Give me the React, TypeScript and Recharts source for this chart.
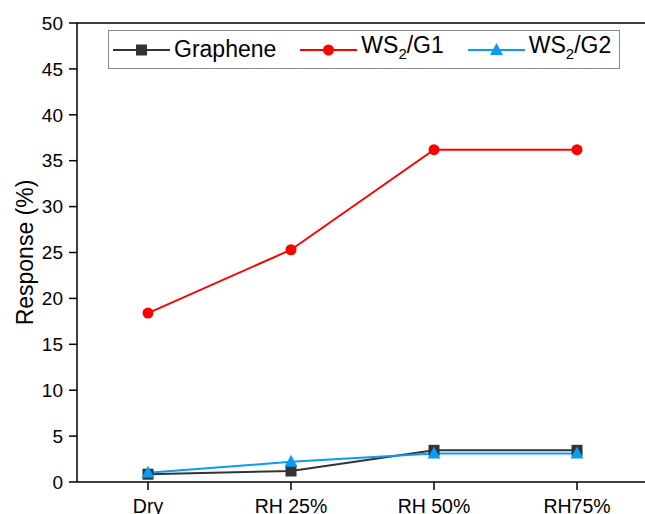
import React from 'react'
import {
  LineChart,
  Line,
  XAxis,
  YAxis,
  Legend,
  ReferenceLine,
} from 'recharts'

// Humidity conditions on the x axis
const conditions = ['Dry', 'RH 25%', 'RH 50%', 'RH75%']

// Sensor response (%) per material
const grapheneResponse = [0.85, 1.2, 3.45, 3.45]
const ws2g1Response = [18.4, 25.3, 36.2, 36.2]
const ws2g2Response = [1.0, 2.2, 3.1, 3.1]

const yTicks = [0, 5, 10, 15, 20, 25, 30, 35, 40, 45, 50]

const FONT = "Arial, 'Liberation Sans', sans-serif"
const GRAPHENE = '#333333'
const G1 = '#ff0000'
const G2 = '#0a9cf5'

const data = conditions.map((c, i) => ({
  condition: c,
  graphene: grapheneResponse[i],
  ws2g1: ws2g1Response[i],
  ws2g2: ws2g2Response[i],
}))

const squareDot = (p: any) => (
  <rect
    key={`sq-${p.index}`}
    x={p.cx - 5.5}
    y={p.cy - 5.5}
    width={11}
    height={11}
    fill={GRAPHENE}
  />
)

const circleDot = (p: any) => (
  <circle key={`ci-${p.index}`} cx={p.cx} cy={p.cy} r={5.5} fill={G1} />
)

const triangleDot = (p: any) => (
  <path
    key={`tr-${p.index}`}
    d={`M${p.cx},${p.cy - 7} L${p.cx + 6.5},${p.cy + 5} L${p.cx - 6.5},${p.cy + 5} Z`}
    fill={G2}
  />
)

function LegendIcon({ color, shape }: { color: string; shape: string }) {
  return (
    <svg width={57} height={20} style={{ display: 'block' }}>
      <line x1={0} y1={10} x2={57} y2={10} stroke={color} strokeWidth={2} />
      {shape === 'square' && <rect x={23} y={4.5} width={11} height={11} fill={color} />}
      {shape === 'circle' && <circle cx={28.5} cy={10} r={5.5} fill={color} />}
      {shape === 'triangle' && <path d="M28.5,3 L35,15 L22,15 Z" fill={color} />}
    </svg>
  )
}

function ChartLegend() {
  const items = [
    { color: GRAPHENE, shape: 'square', label: <>Graphene</> },
    { color: G1, shape: 'circle', label: <>WS<sub style={{ fontSize: 15 }}>2</sub>/G1</> },
    { color: G2, shape: 'triangle', label: <>WS<sub style={{ fontSize: 15 }}>2</sub>/G2</> },
  ]
  return (
    <div
      style={{
        display: 'flex',
        alignItems: 'center',
        border: '1px solid #8a8a8a',
        width: 512,
        height: 39,
        boxSizing: 'border-box',
        paddingLeft: 4,
        fontFamily: FONT,
        fontSize: 23,
        color: '#000',
        background: '#fff',
      }}
    >
      {items.map((it, i) => (
        <div
          key={i}
          style={{ display: 'flex', alignItems: 'center', marginRight: i < 2 ? 24 : 0 }}
        >
          <LegendIcon color={it.color} shape={it.shape} />
          <span style={{ marginLeft: 4, lineHeight: '23px', whiteSpace: 'nowrap' }}>{it.label}</span>
        </div>
      ))}
    </div>
  )
}

export default function App() {
  return (
    <div
      style={{
        position: 'absolute',
        top: 0,
        left: 0,
        width: 645,
        height: 514,
        background: '#fff',
      }}
    >
      {/* negative right margin lets the frame run past the right edge */}
      <LineChart
        width={645}
        height={514}
        data={data}
        margin={{ top: 23, right: -3, bottom: 0, left: 0 }}
      >
        <XAxis
          dataKey="condition"
          type="category"
          scale="point"
          padding={{ left: 71, right: 71 }}
          height={32}
          tickSize={8}
          tickMargin={9}
          stroke="#000"
          strokeWidth={1.5}
          tick={{ fill: '#000', fontSize: 19.5, fontFamily: FONT }}
          tickLine={{ stroke: '#000', strokeWidth: 1.5 }}
          interval={0}
        />
        <YAxis
          domain={[0, 50]}
          ticks={yTicks}
          width={77}
          tickSize={8}
          tickMargin={6}
          stroke="#000"
          strokeWidth={1.5}
          tick={{ fill: '#000', fontSize: 19, fontFamily: FONT }}
          tickLine={{ stroke: '#000', strokeWidth: 1.5 }}
          label={{
            value: 'Response (%)',
            angle: -90,
            position: 'insideLeft',
            offset: 25,
            style: { textAnchor: 'middle', fill: '#000', fontSize: 23, fontFamily: FONT },
          }}
        />
        <ReferenceLine y={50} stroke="#000" strokeWidth={1.5} />
        {/* middle alignment keeps the legend from shrinking the plot area */}
        <Legend
          verticalAlign="middle"
          content={() => <ChartLegend />}
          wrapperStyle={{ top: 30, left: 108, width: 512 }}
        />
        <Line
          dataKey="graphene"
          stroke={GRAPHENE}
          strokeWidth={2}
          dot={squareDot}
          activeDot={false}
          isAnimationActive={false}
        />
        <Line
          dataKey="ws2g1"
          stroke={G1}
          strokeWidth={2}
          dot={circleDot}
          activeDot={false}
          isAnimationActive={false}
        />
        <Line
          dataKey="ws2g2"
          stroke={G2}
          strokeWidth={2}
          dot={triangleDot}
          activeDot={false}
          isAnimationActive={false}
        />
      </LineChart>
    </div>
  )
}
